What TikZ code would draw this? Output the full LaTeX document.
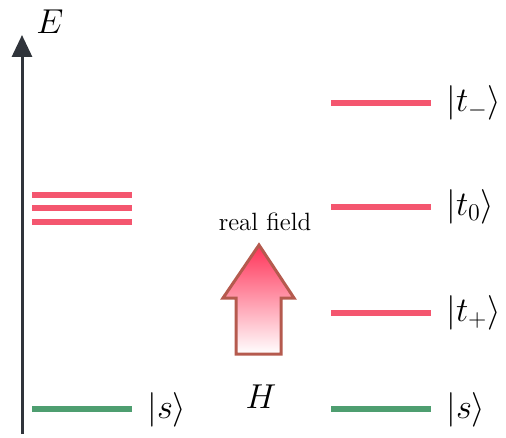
\documentclass[tikz,border=0pt]{standalone}
\usepackage{tikz}
\usetikzlibrary{arrows.meta}
\definecolor{axisgray}{HTML}{30343B}
\definecolor{triplet}{HTML}{F4566F}
\definecolor{singlet}{HTML}{4E9E70}
\definecolor{fieldred}{HTML}{FF3358}
\definecolor{fieldedge}{HTML}{B55A4E}

\begin{document}
\begin{tikzpicture}[x=0.5pt,y=-0.5pt,
  level/.style={line width=3pt},
  statelab/.style={anchor=west,font=\fontsize{18}{22}\selectfont,inner sep=0pt}]
\useasboundingbox (0,0) rectangle (506,437);
% Energy axis
\coordinate (axisbot) at (22,434);
\coordinate (axistop) at (22,35);
\draw[axisgray,line width=1.5pt,-{Triangle[length=11pt,width=10pt]}] (axisbot) -- (axistop);
\node[font=\fontsize{19}{23}\selectfont] (elab) at (50,22) {$E$};
% Zero field: degenerate triplet and singlet
\foreach \y in {195,208,222} {
  \draw[level,triplet] (32,\y) -- (132,\y);
}
\draw[level,singlet] (32,409) -- (132,409);
\node[statelab] (sleft) at (147,410) {$|s\rangle$};
% Real field: split triplet and singlet
\foreach \y/\lab/\nm in {103/t_-/tm, 207/t_0/tz, 313/t_+/tp} {
  \draw[level,triplet] (331,\y) -- (431,\y);
  \node[statelab] (\nm) at (446,\y) {$|\lab\rangle$};
}
\draw[level,singlet] (331,409) -- (431,409);
\node[statelab] (sright) at (446,410) {$|s\rangle$};
% Field arrow
\draw[fieldedge,line width=1.5pt,line join=miter,top color=fieldred,bottom color=white]
  (259,245) -- (294,298) -- (281,298) -- (281,354) -- (236,354) -- (236,298) -- (223,298) -- cycle;
\node[font=\fontsize{12.5}{15}\selectfont] (fieldlab) at (265,222) {real field};
\node[font=\fontsize{19}{23}\selectfont] (hlab) at (261,397) {$H$};
\end{tikzpicture}
\end{document}
